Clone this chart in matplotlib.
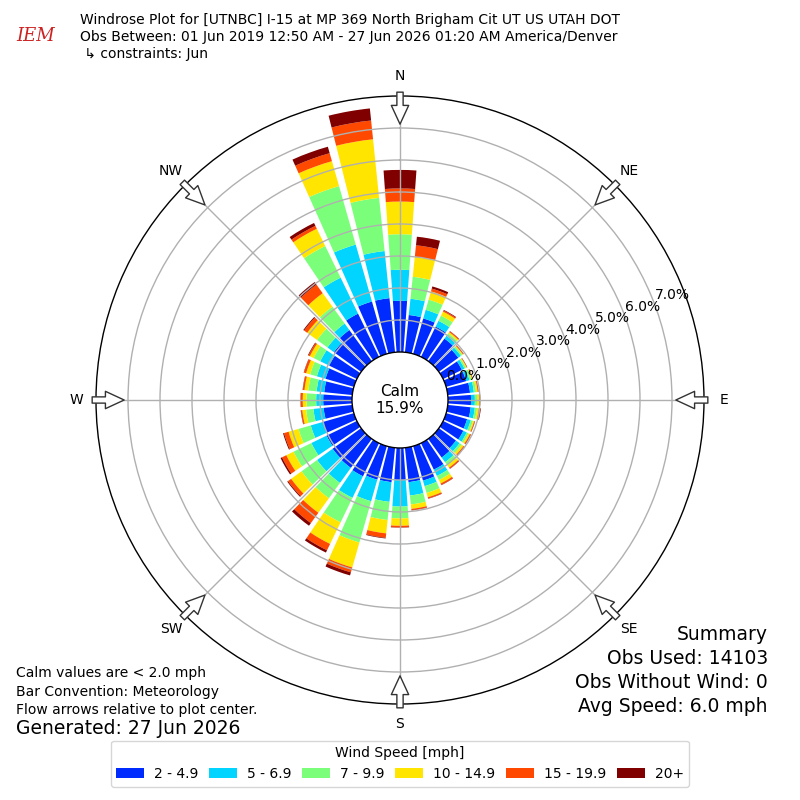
import numpy as np
import matplotlib
matplotlib.use("Agg")
import matplotlib.pyplot as plt
from matplotlib.patches import Circle, Patch

# direction bins (deg, meteorological) and cumulative frequency (%) per speed class
directions = np.arange(0, 360, 10)
cum_2_5 = [1.60, 1.17, 1.15, 1.05, 0.87, 0.75, 0.65, 0.65, 0.70, 0.72, 0.72, 0.68,
           0.70, 0.66, 0.72, 0.92, 1.12, 1.08, 1.00, 1.08, 1.09, 1.15, 1.12, 1.10,
           1.05, 1.00, 0.90, 0.90, 0.88, 0.92, 0.96, 1.05, 1.20, 1.50, 1.70, 1.70]
cum_5_7 = [2.57, 1.68, 1.43, 1.25, 0.98, 0.85, 0.74, 0.76, 0.82, 0.84, 0.85, 0.80,
           0.82, 0.80, 0.90, 1.14, 1.30, 1.50, 1.83, 1.70, 1.79, 1.90, 1.70, 1.70,
           1.58, 1.40, 1.22, 1.12, 1.12, 1.20, 1.27, 1.30, 1.45, 2.75, 3.55, 3.18]
cum_7_10 = [3.68, 2.37, 1.76, 1.43, 1.07, 0.90, 0.79, 0.82, 0.89, 0.91, 0.92, 0.87,
            0.88, 0.88, 1.02, 1.28, 1.52, 1.78, 2.20, 2.27, 3.13, 2.75, 2.29, 2.30,
            2.20, 1.80, 1.45, 1.42, 1.38, 1.42, 1.50, 1.70, 2.10, 3.85, 5.45, 4.85]
cum_10_15 = [4.70, 3.00, 2.03, 1.57, 1.12, 0.93, 0.82, 0.85, 0.94, 0.97, 0.98, 0.91,
             0.93, 0.95, 1.11, 1.40, 1.66, 1.92, 2.43, 2.69, 3.94, 3.50, 2.85, 2.70,
             2.45, 2.12, 1.57, 1.54, 1.50, 1.55, 1.63, 2.08, 2.62, 4.45, 6.26, 6.69]
cum_15_20 = [5.11, 3.36, 2.12, 1.61, 1.15, 0.95, 0.83, 0.86, 0.96, 1.00, 1.02, 0.93,
             0.96, 0.98, 1.15, 1.45, 1.70, 1.96, 2.48, 2.83, 4.10, 3.72, 3.25, 2.82,
             2.60, 2.27, 1.61, 1.60, 1.55, 1.62, 1.68, 2.20, 2.95, 4.55, 6.52, 7.28]
cum_20up = [5.69, 3.63, 2.19, 1.63, 1.16, 0.96, 0.84, 0.87, 0.97, 1.01, 1.04, 0.94,
            0.97, 0.99, 1.16, 1.46, 1.71, 1.97, 2.49, 2.85, 4.20, 3.80, 3.35, 2.85,
            2.65, 2.30, 1.62, 1.61, 1.56, 1.63, 1.70, 2.23, 3.05, 4.65, 6.73, 7.66]

speed_labels = ["2 - 4.9", "5 - 6.9", "7 - 9.9", "10 - 14.9", "15 - 19.9", "20+"]
speed_colors = ["#002bff", "#00d4ff", "#7bff7b", "#ffe500", "#ff4900", "#800000"]
calm_pct = 15.9
ring_values = [0, 1, 2, 3, 4, 5, 6, 7]
compass = ["N", "NE", "E", "SE", "S", "SW", "W", "NW"]

cumulative = [cum_2_5, cum_5_7, cum_7_10, cum_10_15, cum_15_20, cum_20up]

calm_r = 1.5   # radius of calm circle in plot units
fig = plt.figure(figsize=(8, 8), dpi=100)
ax = fig.add_axes([0.12, 0.12, 0.76, 0.76], projection="polar")
ax.set_theta_zero_location("N")
ax.set_theta_direction(-1)
ax.set_ylim(0, 9.5)

theta = np.radians(directions)
prev = np.zeros(len(directions))
for vals, col, lab in zip(cumulative, speed_colors, speed_labels):
    vals = np.array(vals)
    ax.bar(theta, vals - prev, width=np.radians(8.2), bottom=calm_r + prev,
           color=col, linewidth=0, label=lab, zorder=1)
    prev = vals

# grid
ax.set_axisbelow(False)
ax.set_yticks([calm_r + v for v in ring_values[1:]])
ax.set_yticklabels([])
ax.set_xticks(np.radians(np.arange(0, 360, 45)))
ax.set_xticklabels([])
ax.grid(color="#b0b0b0", linewidth=1)
ax.spines["polar"].set_linewidth(1)

# ring labels
for v in ring_values:
    ax.text(np.radians(69), calm_r + v + 0.62, f"{v:.1f}%", ha="center",
            va="center", fontsize=10, zorder=6)

# compass labels and flow arrows
for i, name in enumerate(compass):
    th = np.radians(i * 45)
    ax.text(th, 10.12, name, ha="center", va="center", fontsize=10)
    ax.annotate("", xy=(th, 8.62), xytext=(th, 9.62),
                arrowprops=dict(arrowstyle="simple,head_width=1.25,head_length=1.35,tail_width=0.45",
                                fc="white", ec="#333333", lw=1, shrinkA=0, shrinkB=0),
                annotation_clip=False, zorder=5)

# calm circle
ax.add_patch(Circle((0.5, 0.5), 48 / 608, transform=ax.transAxes,
                    facecolor="white", edgecolor="black", linewidth=1, zorder=7))
ax.text(0.5, 0.5, f"Calm\n{calm_pct}%", transform=ax.transAxes, ha="center",
        va="center", fontsize=11, zorder=8)

# header
fig.text(0.045, 0.955, "IEM", color="#cc2222", fontsize=13, style="italic",
         family="DejaVu Serif", ha="center", va="center")
fig.text(0.1, 1 - 20 / 800, "Windrose Plot for [UTNBC] I-15 at MP 369 North Brigham Cit UT US UTAH DOT",
         fontsize=10, va="center")
fig.text(0.1, 1 - 37 / 800, "Obs Between: 01 Jun 2019 12:50 AM - 27 Jun 2026 01:20 AM America/Denver",
         fontsize=10, va="center")
fig.text(0.1, 1 - 54 / 800, " \u21b3 constraints: Jun", fontsize=10, va="center")

# footer notes
fig.text(0.02, 1 - 673 / 800, "Calm values are < 2.0 mph", fontsize=10, va="center")
fig.text(0.02, 1 - 692 / 800, "Bar Convention: Meteorology", fontsize=10, va="center")
fig.text(0.02, 1 - 710 / 800, "Flow arrows relative to plot center.", fontsize=10, va="center")
fig.text(0.02, 1 - 729 / 800, "Generated: 27 Jun 2026", fontsize=13.5, va="center")

summary = ["Summary", "Obs Used: 14103", "Obs Without Wind: 0", "Avg Speed: 6.0 mph"]
for i, line in enumerate(summary):
    fig.text(0.96, 1 - (635 + i * 23.7) / 800, line, fontsize=13.5, ha="right", va="center")

handles = [Patch(facecolor=c, label=l) for c, l in zip(speed_colors, speed_labels)]
fig.legend(handles=handles, loc="lower center", bbox_to_anchor=(0.5, 0.008), ncol=6,
           title="Wind Speed [mph]", fontsize=10, title_fontsize=10,
           columnspacing=0.8, handletextpad=0.7)

fig.savefig("out.png", dpi=100)
